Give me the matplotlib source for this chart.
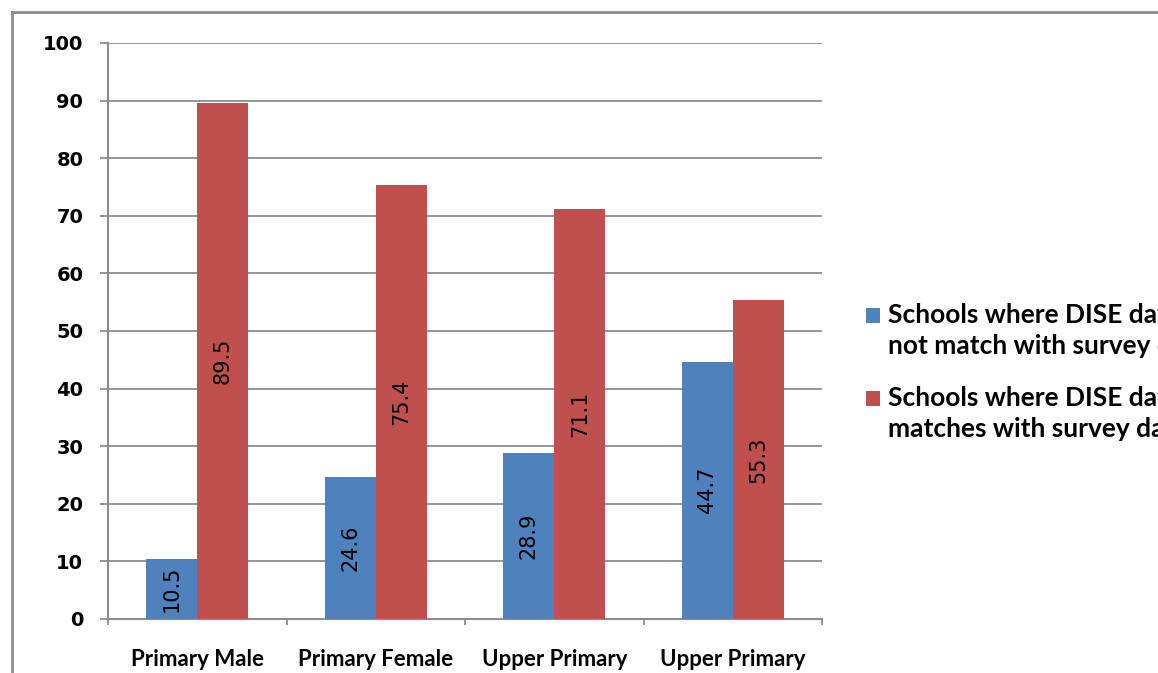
import matplotlib
matplotlib.use("Agg")
import matplotlib.pyplot as plt
import numpy as np
from matplotlib.patches import Rectangle
from matplotlib.lines import Line2D
from matplotlib.transforms import blended_transform_factory

categories = ["Primary Male", "Primary Female", "Upper Primary", "Upper Primary"]
not_match = [10.5, 24.6, 28.9, 44.7]
match = [89.5, 75.4, 71.1, 55.3]
series_names = ["Schools where DISE data does\nnot match with survey data",
                "Schools where DISE data\nmatches with survey data"]
yticks = list(range(0, 101, 10))

BLUE = "#4F81BD"
RED = "#C0504D"
GRID = "#8C8C8C"

W, H = 1158, 673
fig = plt.figure(figsize=(W / 100, H / 100), dpi=100)
ax_h = 619 - 43
ax = fig.add_axes([108 / W, 1 - 619 / H, (822 - 108) / W, ax_h / H])

x = np.arange(len(categories))
bw = 0.286
b1 = ax.bar(x - bw / 2, not_match, bw, color=BLUE, zorder=3)
b2 = ax.bar(x + bw / 2, match, bw, color=RED, zorder=3)

for bars, vals in ((b1, not_match), (b2, match)):
    for r, v in zip(bars, vals):
        ax.text(r.get_x() + r.get_width() / 2, v / 2, f"{v:.1f}", rotation=90,
                ha="center", va="center", fontsize=15, family="DejaVu Sans",
                color="black", zorder=4)

ax.set_ylim(0, 100)
ax.set_xlim(-0.5, len(categories) - 0.5)
ax.set_yticks(yticks)
ax.set_yticklabels([str(t) for t in yticks], fontsize=14, fontweight="bold",
                   family="DejaVu Sans")
ax.yaxis.grid(True, color=GRID, linewidth=1.3, zorder=0)
ax.set_axisbelow(True)

ax.set_xticks(np.arange(-0.5, len(categories), 1.0))
ax.set_xticklabels([])
ax.tick_params(axis="x", which="major", length=4.5, width=1.3, color=GRID,
               direction="out")
ax.tick_params(axis="y", length=5.8, width=1.3, color=GRID, pad=12)

# category labels placed with baseline just above the bottom edge
trans = blended_transform_factory(ax.transData, ax.transAxes)
for xi, lab in zip(x, categories):
    ax.text(xi, -(666 - 619) / ax_h, lab, transform=trans, ha="center",
            va="baseline", fontsize=16, fontweight="bold", family="Lato",
            clip_on=False)

for s in ["top", "right"]:
    ax.spines[s].set_visible(False)
for s in ["left", "bottom"]:
    ax.spines[s].set_color(GRID)
    ax.spines[s].set_linewidth(1.5)

# outer chart border (cropped)
fig.add_artist(Line2D([12 / W, 12 / W], [0, 1 - 12 / H], transform=fig.transFigure,
                      color=GRID, linewidth=2))
fig.add_artist(Line2D([12 / W, 1], [1 - 12 / H, 1 - 12 / H], transform=fig.transFigure,
                      color=GRID, linewidth=2))

# legend (manual, cropped at right edge)
leg_items = [(BLUE, series_names[0], 315), (RED, series_names[1], 398)]
for col, name, ytop in leg_items:
    fig.add_artist(Rectangle((866 / W, 1 - (ytop + 8) / H), 14 / W, 15 / H,
                             transform=fig.transFigure, facecolor=col,
                             edgecolor="none"))
    fig.text(888 / W, 1 - (ytop - 12) / H, name, ha="left", va="top",
             fontsize=19, fontweight="bold", family="Lato", linespacing=1.35)

fig.savefig("out.png", dpi=100)
